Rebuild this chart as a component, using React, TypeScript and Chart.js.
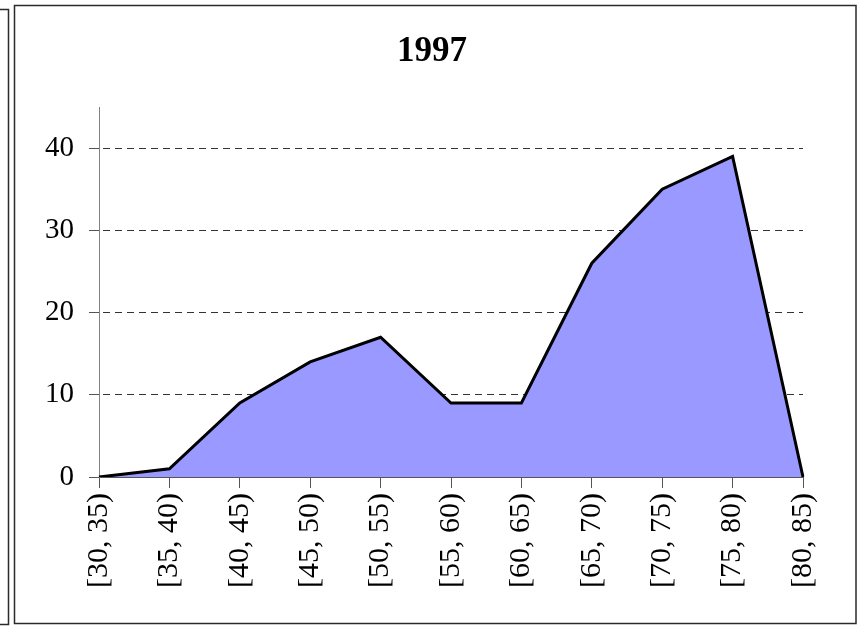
import React, { useEffect, useRef } from "react";
import { Chart, registerables } from "chart.js";

Chart.register(...registerables);

const titleText = "1997";
const categories = ["[30, 35)", "[35, 40)", "[40, 45)", "[45, 50)", "[50, 55)", "[55, 60)", "[60, 65)", "[65, 70)", "[70, 75)", "[75, 80)", "[80, 85)"];
const counts = [0, 1, 9, 14, 17, 9, 9, 26, 35, 39, 0];
const yTicks = [0, 10, 20, 30, 40];
const yMax = 45;

const framePlugin = {
  id: "frame",
  beforeDraw(chart: any) {
    const ctx = chart.ctx;
    ctx.save();
    ctx.fillStyle = "#ffffff";
    ctx.fillRect(0, 0, chart.width, chart.height);
    ctx.strokeStyle = "#2a2a2a";
    ctx.lineWidth = 1.5;
    // neighbouring panel edge
    ctx.beginPath();
    ctx.moveTo(0, 9.5);
    ctx.lineTo(8.5, 9.5);
    ctx.lineTo(8.5, 624.5);
    ctx.lineTo(0, 624.5);
    ctx.stroke();
    // main frame
    ctx.strokeRect(14.5, 5.5, 841.5, 618);
    ctx.restore();
  },
};

export default function App() {
  const ref = useRef<HTMLCanvasElement | null>(null);
  useEffect(() => {
    if (!ref.current) return;
    const chart = new Chart(ref.current, {
      type: "line",
      data: {
        labels: categories,
        datasets: [
          {
            data: counts,
            borderColor: "#000000",
            backgroundColor: "#9999ff",
            borderWidth: 3,
            fill: "origin",
            pointRadius: 0,
            tension: 0,
            borderJoinStyle: "miter",
          },
        ],
      },
      options: {
        animation: false,
        responsive: false,
        maintainAspectRatio: false,
        layout: { padding: { left: 14, right: 9, top: 0, bottom: 9 } },
        plugins: {
          legend: { display: false },
          tooltip: { enabled: false },
          title: {
            display: true,
            text: titleText,
            color: "#000000",
            font: { family: "Liberation Serif", size: 35, weight: "bold", lineHeight: 1.2 },
            padding: { top: 31, bottom: 34 },
          },
        },
        scales: {
          x: {
            offset: false,
            afterFit: (s: any) => { s.height = 140; },
            grid: {
              drawOnChartArea: false,
              drawTicks: true,
              tickLength: 11,
              tickColor: "#555555",
              tickWidth: 1,
            },
            border: { display: true, color: "#555555", width: 1 },
            ticks: {
              color: "#000000",
              font: { family: "Liberation Serif", size: 30 },
              minRotation: 90,
              maxRotation: 90,
              autoSkip: false,
              padding: 5,
            },
          },
          y: {
            min: 0,
            max: yMax,
            afterFit: (s: any) => { s.width = 85; },
            afterBuildTicks: (s: any) => { s.ticks = yTicks.map((v) => ({ value: v })); },
            grid: {
              color: "#333333",
              lineWidth: 1,
              tickBorderDash: [],
              tickLength: 10,
              tickColor: "#555555",
              tickWidth: 1,
            },
            border: { display: true, color: "#808080", width: 1, dash: [7, 5], dashOffset: -3 },
            ticks: {
              color: "#000000",
              font: { family: "Liberation Serif", size: 29 },
              padding: 15,
            },
          },
          yRight: {
            type: "linear",
            position: "right",
            display: true,
            afterFit: (s: any) => { s.width = 47; },
            grid: { display: false, drawTicks: false },
            border: { display: false },
            ticks: { display: false },
          },
        },
      },
      plugins: [framePlugin],
    } as any);
    return () => chart.destroy();
  }, []);
  return (
    <div style={{ position: "fixed", left: 0, top: 0, width: 859, height: 626 }}>
      <canvas ref={ref} width={859} height={626} style={{ display: "block" }} />
    </div>
  );
}
